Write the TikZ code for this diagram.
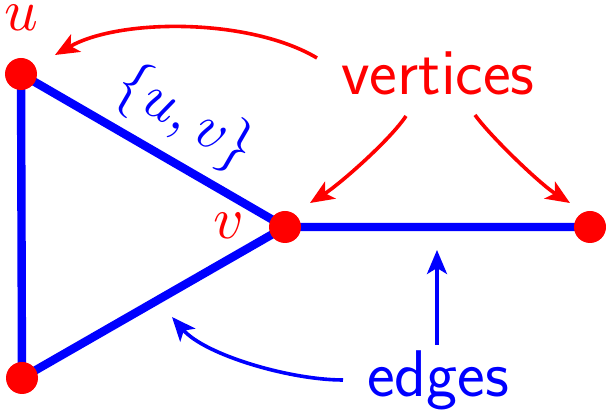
\documentclass[tikz,border=0pt]{standalone}
\usetikzlibrary{arrows.meta}
\begin{document}
\begin{tikzpicture}[x=0.5pt,y=-0.5pt,
  vert/.style={circle,fill=red,inner sep=0pt,minimum size=16pt},
  edge/.style={blue,line width=4.2pt},
  pointer/.style={line width=1.8pt,-{Stealth[length=12pt,width=10pt,inset=3pt]}},
  lbl/.style={inner sep=0pt,scale=2.95},
  word/.style={inner sep=0pt,anchor=base,font=\fontsize{33}{39}\sffamily}]
\useasboundingbox (0,0) rectangle (606,410);
% edges
\coordinate (U) at (21,74);
\coordinate (W) at (22,378);
\coordinate (V) at (285,227);
\coordinate (X) at (590,227);
\draw[edge] (U) -- (W) -- (V) -- (X);
\draw[edge] (U) -- (V);
\node[vert] (u) at (U) {};
\node[vert] (w) at (W) {};
\node[vert] (v) at (V) {};
\node[vert] (x) at (X) {};
% labels
\node[lbl,red] (ul) at (21,18) {$u$};
\node[lbl,red] (vl) at (229,226) {$v$};
\node[lbl,blue,rotate=-30] (uv) at (185,118) {$\{u,v\}$};
\node[word,red] (vt) at (438,95) {vertices};
\node[word,blue] (et) at (438,397) {edges};
% pointers
\coordinate (a1) at (317,58);  \coordinate (t1) at (55,55);
\coordinate (a2) at (406,116); \coordinate (t2) at (310,203);
\coordinate (a3) at (475,115); \coordinate (t3) at (570,203);
\coordinate (a4) at (437,345); \coordinate (t4) at (437,250);
\coordinate (a5) at (343,380); \coordinate (t5) at (172,317);
\draw[pointer,red] (a1) .. controls (250,18) and (120,18) .. (t1);
\draw[pointer,red] (a2) .. controls (390,140) and (340,184) .. (t2);
\draw[pointer,red] (a3) .. controls (491,137) and (540,184) .. (t3);
\draw[pointer,blue] (a4) -- (t4);
\draw[pointer,blue] (a5) .. controls (290,380) and (205,355) .. (t5);
\end{tikzpicture}
\end{document}
